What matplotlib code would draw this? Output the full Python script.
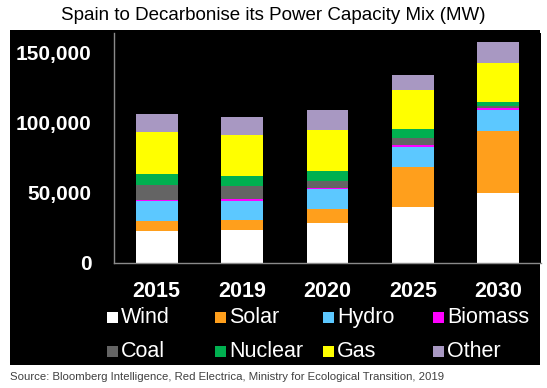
import matplotlib
matplotlib.use("Agg")
import matplotlib.pyplot as plt
from matplotlib.patches import Rectangle
import numpy as np

plt.rcParams['font.family'] = ['Liberation Sans', 'DejaVu Sans']

years = ["2015", "2019", "2020", "2025", "2030"]
wind = [23.0, 23.6, 28.4, 40.2, 49.8]
solar = [6.6, 6.9, 10.0, 28.6, 44.2]
hydro = [14.3, 14.0, 14.3, 13.8, 15.3]
biomass = [0.7, 0.9, 1.0, 1.7, 1.4]
coal = [11.2, 9.6, 5.0, 4.8, 1.3]
nuclear = [7.9, 7.1, 7.0, 6.6, 3.1]
gas = [29.8, 29.1, 28.8, 28.0, 27.4]
other = [12.6, 12.8, 14.3, 10.0, 14.8]

series_names = ["Wind", "Solar", "Hydro", "Biomass", "Coal", "Nuclear", "Gas", "Other"]
series_vals = [wind, solar, hydro, biomass, coal, nuclear, gas, other]
colors = ["#FFFFFF", "#FF9F1C", "#5CC8FF", "#FF00FF", "#646464", "#00B050", "#FFFF00", "#A898C2"]

W, H = 547, 388
fig = plt.figure(figsize=(W / 100, H / 100), dpi=100)
fig.patch.set_facecolor("white")

# black panel
fig.patches.append(Rectangle((10 / W, 1 - 365 / H), 530 / W, 335 / H,
                             transform=fig.transFigure, facecolor="black",
                             edgecolor="none", zorder=-5))

ax = fig.add_axes([114 / W, 1 - 263 / H, (541 - 114) / W, (263 - 33) / H])
ax.set_facecolor("black")
ax.set_zorder(1)

x = np.arange(len(years))
bottom = np.zeros(len(years))
for name, vals, c in zip(series_names, series_vals, colors):
    v = np.array(vals) * 1000
    ax.bar(x, v, bottom=bottom, width=0.49, color=c, edgecolor="none", label=name)
    bottom += v

ax.set_xlim(-0.5, 4.5)
ax.set_ylim(0, 164000)
ax.set_yticks([0, 50000, 100000, 150000])
ax.set_yticklabels(["0", "50,000", "100,000", "150,000"])
ax.set_xticks(x)
ax.set_xticklabels(years)
for lbl in ax.get_yticklabels():
    lbl.set_fontweight("bold")
    lbl.set_color("white")
    lbl.set_fontsize(15)
for lbl in ax.get_xticklabels():
    lbl.set_fontweight("bold")
    lbl.set_color("white")
    lbl.set_fontsize(15.5)
ax.tick_params(axis="both", length=0)
ax.tick_params(axis="y", pad=16)
ax.tick_params(axis="x", pad=13)
for s in ["top", "right"]:
    ax.spines[s].set_visible(False)
for s in ["left", "bottom"]:
    ax.spines[s].set_color("#8a8a8a")
    ax.spines[s].set_linewidth(1.0)

# legend (manual placement)
leg_x = [107, 215, 323, 433]
leg_y = [317, 351]
for i, (name, c) in enumerate(zip(series_names, colors)):
    r, col = divmod(i, 4)
    sx = leg_x[col]
    sy = leg_y[r]
    fig.patches.append(Rectangle((sx / W, 1 - (sy + 5.5) / H), 11 / W, 11 / H,
                                 transform=fig.transFigure, facecolor=c,
                                 edgecolor="none", zorder=2))
    fig.text((sx + 14) / W, 1 - (sy + 0.5) / H, name, color="white", fontsize=15.5,
             va="center", ha="left", zorder=3)

fig.text(273 / W, 1 - 16 / H, "Spain to Decarbonise its Power Capacity Mix (MW)",
         ha="center", va="center", fontsize=13.5, color="black")
fig.text(10 / W, 1 - 377 / H,
         "Source: Bloomberg Intelligence, Red Electrica, Ministry for Ecological Transition, 2019",
         ha="left", va="center", fontsize=8.2, color="#404040")

fig.savefig("out.png", dpi=100, facecolor=fig.get_facecolor())
